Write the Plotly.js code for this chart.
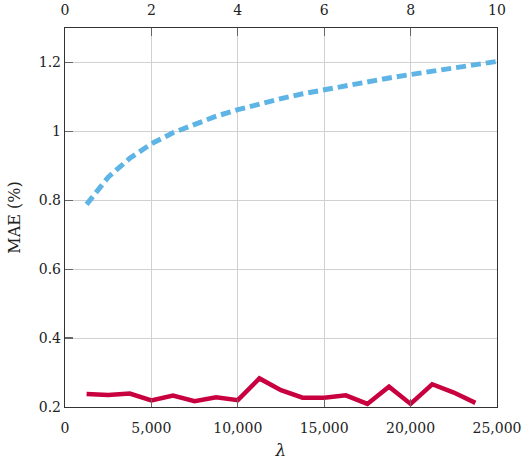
<!DOCTYPE html>
<html>
<head>
<meta charset="utf-8">
<script src="https://cdn.plot.ly/plotly-3.0.1.min.js"></script>
<style>html,body{margin:0;padding:0;background:#fff}</style>
</head>
<body>
<div id="chart" style="width:522px;height:460px"></div>
<script>
// Bottom axis series (lambda)
const lambdaVals = [1250, 2500, 3750, 5000, 6250, 7500, 8750, 10000, 11250, 12500, 13750, 15000, 16250, 17500, 18750, 20000, 21250, 22500, 23750];
const redMAE = [0.238, 0.235, 0.239, 0.219, 0.233, 0.217, 0.228, 0.220, 0.283, 0.249, 0.227, 0.227, 0.234, 0.209, 0.259, 0.209, 0.266, 0.242, 0.212];
// Top axis series
const topVals = [0.5, 1, 1.5, 2, 2.5, 3, 3.5, 4, 4.5, 5, 5.5, 6, 6.5, 7, 7.5, 8, 8.5, 9, 9.5, 10];
const blueMAE = [0.788, 0.867, 0.922, 0.964, 0.996, 1.020, 1.044, 1.063, 1.080, 1.095, 1.109, 1.121, 1.133, 1.145, 1.155, 1.165, 1.175, 1.185, 1.193, 1.203];

const font = {family: 'DejaVu Serif', size: 14, color: '#222'};
const data = [
  {x: lambdaVals, y: redMAE, type: 'scatter', mode: 'lines', xaxis: 'x', yaxis: 'y',
   line: {color: '#C8003F', width: 4.5}, showlegend: false, hoverinfo: 'skip'},
  {x: topVals, y: blueMAE, type: 'scatter', mode: 'lines', xaxis: 'x2', yaxis: 'y',
   line: {color: '#5DB4E5', width: 5, dash: '10px,5px'}, showlegend: false, hoverinfo: 'skip'}
];
const axisCommon = {
  showline: true, linecolor: '#333', linewidth: 1.2,
  showgrid: true, gridcolor: '#d0d0d0', gridwidth: 1,
  ticks: 'inside', ticklen: 8, tickcolor: '#666', tickwidth: 1.2,
  zeroline: false, tickfont: font
};
const layout = {
  width: 522, height: 460,
  margin: {l: 65, r: 25, t: 28, b: 53},
  paper_bgcolor: '#fff', plot_bgcolor: '#fff',
  font: font,
  xaxis: Object.assign({}, axisCommon, {
    range: [0, 25000], tickvals: [0, 5000, 10000, 15000, 20000, 25000],
    tickformat: ',d', mirror: false, ticklabelstandoff: 8,
    title: {text: '<i>λ</i>', font: {family: 'DejaVu Serif', size: 17, color: '#222'}, standoff: 10}
  }),
  xaxis2: Object.assign({}, axisCommon, {
    range: [0, 10], tickvals: [0, 2, 4, 6, 8, 10], overlaying: 'x', side: 'top',
    anchor: 'y', showgrid: false, ticklabelstandoff: 6
  }),
  yaxis: Object.assign({}, axisCommon, {
    range: [0.2, 1.3], tickvals: [0.2, 0.4, 0.6, 0.8, 1, 1.2], ticktext: ['0.2','0.4','0.6','0.8','1','1.2'],
    mirror: true,
    title: {text: 'MAE (%)', font: {family: 'DejaVu Serif', size: 16, color: '#222'}, standoff: 14}
  })
};
Plotly.newPlot('chart', data, layout, {staticPlot: true, displayModeBar: false});
</script>
</body>
</html>
